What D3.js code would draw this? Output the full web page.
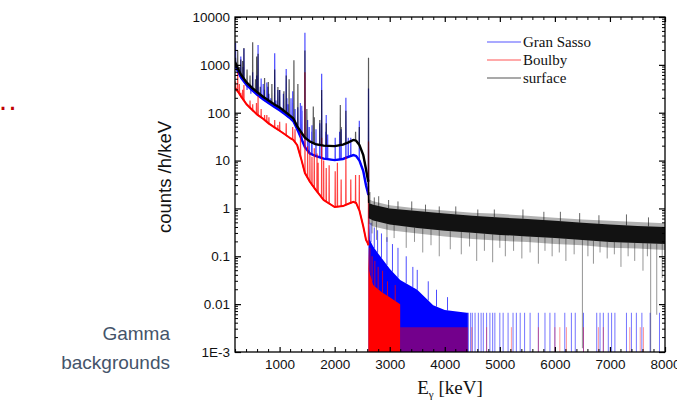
<!DOCTYPE html>
<html>
<head>
<meta charset="utf-8">
<script src="https://cdn.jsdelivr.net/npm/d3@7/dist/d3.min.js"></script>
<style>
  body { margin: 0; background: #fff; }
  svg { display: block; }
</style>
</head>
<body>
<svg id="chart" width="677" height="406"></svg>
<script>
// ---------- axes ----------
const energyDomain = [190, 8000];
const energyTicks = [1000, 2000, 3000, 4000, 5000, 6000, 7000, 8000];
const rateTicks = [1e-3, 0.01, 0.1, 1, 10, 100, 1000, 10000];
const rateTickLabels = ["1E-3", "0.01", "0.1", "1", "10", "100", "1000", "10000"];
const seriesNames = ["Gran Sasso", "Boulby", "surface"];

// ---------- continuum below the 2615 keV line (keV, counts/h/keV) ----------
const contEnergy = [190, 250, 300, 400, 500, 600, 700, 800, 900, 1000, 1100, 1200, 1250, 1320, 1400, 1460, 1550, 1650, 1800, 2000, 2150, 2250, 2340, 2390, 2450, 2520, 2570, 2600, 2612];
const surfaceCont = [1150, 800, 620, 430, 330, 265, 215, 180, 150, 128, 105, 85, 76, 52, 38, 30, 25, 22, 20.5, 20, 21.5, 24, 27, 26, 21, 13, 6.5, 4.2, 3.6];
const gransassoCont = [1000, 700, 540, 380, 295, 235, 192, 160, 134, 113, 93, 75, 66, 45, 28, 19, 14, 12.5, 11, 10.2, 10.8, 12, 13, 12.5, 10, 6, 3, 2.2, 1.9];
const boulbyCont = [330, 270, 220, 150, 115, 90, 75, 60, 50, 42, 35, 29, 27, 21, 10, 5.5, 3.6, 2.5, 1.5, 1.07, 1.12, 1.25, 1.37, 1.3, 0.9, 0.42, 0.22, 0.19, 0.17];

// ---------- gamma lines [keV, peak counts/h/keV] ----------
const gransassoPeaks = [[200, 2850], [242, 900], [295, 1500], [338, 900], [352, 2200], [409, 300], [463, 350], [478, 250], [511, 700], [562, 300], [583, 600], [609, 2600], [665, 520], [703, 400], [720, 300], [768, 430], [786, 350], [806, 250], [839, 200], [911, 1750], [934, 180], [969, 300], [1001, 300], [1069, 250], [1120, 820], [1133, 200], [1155, 150], [1207, 200], [1238, 280], [1281, 120], [1330, 130], [1377, 160], [1402, 140], [1408, 110], [1460, 4700], [1509, 70], [1538, 50], [1583, 40], [1588, 55], [1661, 45], [1730, 60], [1764, 650], [1838, 40], [1847, 90], [1873, 35], [2010, 30], [2090, 40], [2118, 45], [2204, 205], [2247, 30], [2293, 30], [2448, 68], [2615, 320]];
const surfacePeaks = [[200, 1400], [239, 2000], [270, 900], [295, 1300], [328, 1200], [352, 2250], [409, 800], [463, 600], [511, 2950], [562, 500], [583, 1500], [609, 1700], [649, 350], [727, 530], [795, 440], [860, 400], [911, 800], [969, 345], [1001, 300], [1078, 280], [1120, 600], [1173, 500], [1260, 1250], [1332, 400], [1460, 2000], [1495, 120], [1612, 135], [1630, 80], [1730, 70], [1764, 300], [1847, 60], [2103, 145], [2118, 50], [2204, 110], [2380, 40], [2448, 50], [2615, 1400]];
const boulbyPeaks = [[200, 450], [239, 700], [270, 400], [295, 260], [328, 300], [352, 380], [463, 180], [511, 150], [580, 160], [609, 220], [665, 120], [727, 90], [768, 90], [806, 80], [911, 70], [969, 55], [1001, 65], [1120, 60], [1238, 50], [1280, 45], [1380, 40], [1460, 700], [1509, 20], [1550, 15], [1588, 12], [1630, 18], [1680, 14], [1700, 9], [1764, 30], [1800, 10], [1847, 7], [1900, 8], [2010, 6], [2050, 9], [2118, 4], [2204, 12], [2293, 4], [2380, 5], [2448, 5], [2615, 25]];

// ---------- surface spectrum above 2615 keV: noise band ----------
const bandEnergy = [2618, 2700, 3000, 3500, 4000, 4500, 5000, 5500, 6000, 6500, 7000, 7500, 8000];
const bandCoreHi = [1.3, 1.2, 1.0, 0.88, 0.78, 0.7, 0.65, 0.6, 0.55, 0.5, 0.46, 0.43, 0.41];
const bandCoreLo = [0.62, 0.56, 0.46, 0.39, 0.34, 0.31, 0.28, 0.26, 0.24, 0.22, 0.2, 0.19, 0.18];
const bandFringeHi = [1.55, 1.42, 1.17, 1.0, 0.9, 0.81, 0.77, 0.7, 0.64, 0.59, 0.55, 0.52, 0.49];
const bandFringeLo = [0.48, 0.42, 0.35, 0.3, 0.26, 0.23, 0.21, 0.2, 0.18, 0.17, 0.15, 0.145, 0.135];
const surfaceDips = [[2680, 0.3], [2760, 0.22], [2950, 0.2], [3080, 0.24], [3300, 0.15], [3450, 0.2], [3600, 0.12], [3750, 0.17], [3900, 0.1], [4100, 0.14], [4300, 0.11], [4450, 0.16], [4580, 0.08], [4720, 0.13], [4870, 0.075], [5000, 0.15], [5100, 0.1], [5250, 0.13], [5400, 0.09], [5550, 0.12], [5700, 0.07], [5820, 0.13], [5950, 0.1], [6080, 0.12], [6200, 0.08], [6350, 0.11], [6500, 0.0012], [6600, 0.1], [6700, 0.07], [6820, 0.12], [6950, 0.09], [7080, 0.11], [7200, 0.06], [7330, 0.1], [7450, 0.08], [7600, 0.05], [7680, 0.1], [7740, 0.001], [7850, 0.006], [7950, 0.035]];
const surfaceUps = [[2640, 2.2], [2720, 1.7], [2800, 1.8], [2980, 1.5], [3150, 1.4], [3400, 1.4], [3650, 1.2], [3900, 1.1], [4200, 1.1], [4600, 0.95], [4900, 0.95], [5420, 0.95], [5800, 0.85], [6100, 0.85], [6450, 0.8], [6800, 0.72], [7300, 0.75], [7700, 0.65]];

// ---------- Gran Sasso above 2615 keV ----------
const gsTopEnergy = [2615, 2640, 2700, 2800, 2880, 3000, 3190, 3500, 3790, 4000, 4400, 4420];
const gsTopRate = [1.9, 0.22, 0.16, 0.11, 0.084, 0.055, 0.032, 0.02, 0.0095, 0.0075, 0.0066, 0.0066];
const gsSpikes = [[2660, 0.5], [2720, 0.4], [2780, 0.35], [2850, 0.3], [2950, 0.25], [3050, 0.18], [3150, 0.15], [3300, 0.1], [3420, 0.06], [3500, 0.052], [3700, 0.03], [3850, 0.02], [4050, 0.014]];
const gsSingleCounts = [4430, 4470, 4500, 4550, 4610, 4660, 4700, 4760, 4820, 4870, 4910, 5000, 5060, 5150, 5240, 5300, 5370, 5450, 5550, 5700, 5820, 5910, 6000, 6180, 6300, 6370, 6520, 6760, 6820, 6880, 6970, 7030, 7090, 7300, 7390, 7480, 7580, 7730, 7900];
const gsOneCount = 0.0066;

// ---------- Boulby above 2615 keV ----------
const bTopEnergy = [2612, 2625, 2700, 2850, 3000, 3190];
const bTopRate = [0.17, 0.05, 0.025, 0.018, 0.014, 0.01];
const bSpikes = [[2640, 0.15], [2680, 0.1], [2730, 0.08], [2790, 0.06], [2870, 0.05], [2960, 0.03], [3100, 0.025]];
const bLowBand = [3190, 4420];
const bSingleCounts = [4490, 4760, 5210, 5700, 6000, 6090, 6210, 6520, 6790, 6880, 7360, 7550, 7610];
const bOneCount = 0.0033;

// ---------- layout ----------
const svg = d3.select("#chart");
const plotL = 235, plotR = 665, plotT = 17, plotB = 352;
const x = d3.scaleLinear().domain(energyDomain).range([plotL, plotR]);
const y = d3.scaleLog().domain([1e-3, 1e4]).range([plotB, plotT]).clamp(true);

const BLUE = "#0000ff", RED = "#ff0000", BLACK = "#000000";

svg.append("clipPath").attr("id", "plotclip")
  .append("rect").attr("x", plotL).attr("y", plotT).attr("width", plotR - plotL).attr("height", plotB - plotT);
const plot = svg.append("g").attr("clip-path", "url(#plotclip)");

// log interpolation of a continuum at energy e
function baseAt(E, V, e) {
  if (e <= E[0]) return V[0];
  if (e >= E[E.length - 1]) return V[V.length - 1];
  const i = d3.bisectRight(E, e) - 1;
  const t = (e - E[i]) / (E[i + 1] - E[i]);
  return Math.exp(Math.log(V[i]) + t * (Math.log(V[i + 1]) - Math.log(V[i])));
}
function spectrumPoints(E, V, peaks) {
  const pts = E.map((e, i) => [e, V[i]]);
  peaks.forEach(([pe, pv]) => {
    const b = baseAt(E, V, pe);
    pts.push([pe - 3, b], [pe, pv], [pe + 3, b]);
  });
  return pts.sort((a, b) => a[0] - b[0]);
}
const line = d3.line().x(d => x(d[0])).y(d => y(d[1]));
const areaBand = d3.area().x(d => x(d[0])).y0(d => y(d[1])).y1(d => y(d[2]));

function drawSpikes(g, list, base, color, width, opacity) {
  g.selectAll(null).data(list).join("line")
    .attr("x1", d => x(d[0])).attr("x2", d => x(d[0]))
    .attr("y1", d => y(typeof base === "function" ? base(d) : base))
    .attr("y2", d => y(d[1]))
    .attr("stroke", color).attr("stroke-width", width).attr("stroke-opacity", opacity);
}

// ---- Gran Sasso ----
const gGS = plot.append("g");
gGS.append("path")
  .datum(gsTopEnergy.map((e, i) => [e, 1e-3, gsTopRate[i]]))
  .attr("d", areaBand).attr("fill", BLUE);
drawSpikes(gGS, gsSpikes, d => baseAt(gsTopEnergy, gsTopRate, d[0]), BLUE, 1, 0.7);
drawSpikes(gGS, gsSingleCounts.map(e => [e, gsOneCount]), 1e-3, BLUE, 1, 0.55);
gGS.append("path").datum(spectrumPoints(contEnergy, gransassoCont, gransassoPeaks))
  .attr("d", line).attr("fill", "none").attr("stroke", BLUE).attr("stroke-width", 1.2).attr("stroke-opacity", 0.7);
gGS.append("path").datum(contEnergy.map((e, i) => [e, gransassoCont[i]]))
  .attr("d", line).attr("fill", "none").attr("stroke", BLUE).attr("stroke-width", 2.4);

// ---- Boulby ----
const gB = plot.append("g");
gB.append("path")
  .datum(bTopEnergy.map((e, i) => [e, 1e-3, bTopRate[i]]))
  .attr("d", areaBand).attr("fill", RED);
gB.append("path")
  .datum(bLowBand.map(e => [e, 1e-3, bOneCount]))
  .attr("d", areaBand).attr("fill", RED).attr("fill-opacity", 0.45);
drawSpikes(gB, bSpikes, d => baseAt(bTopEnergy, bTopRate, d[0]), RED, 1, 0.75);
drawSpikes(gB, bSingleCounts.map(e => [e, bOneCount]), 1e-3, RED, 1, 0.4);
gB.append("path").datum(spectrumPoints(contEnergy, boulbyCont, boulbyPeaks))
  .attr("d", line).attr("fill", "none").attr("stroke", RED).attr("stroke-width", 1.2).attr("stroke-opacity", 0.75);
gB.append("path").datum(contEnergy.map((e, i) => [e, boulbyCont[i]]))
  .attr("d", line).attr("fill", "none").attr("stroke", RED).attr("stroke-width", 2);

// ---- surface ----
const gS = plot.append("g");
gS.append("path")
  .datum(bandEnergy.map((e, i) => [e, bandFringeLo[i], bandFringeHi[i]]))
  .attr("d", areaBand).attr("fill", BLACK).attr("fill-opacity", 0.3);
gS.append("path")
  .datum(bandEnergy.map((e, i) => [e, bandCoreLo[i], bandCoreHi[i]]))
  .attr("d", areaBand).attr("fill", BLACK).attr("fill-opacity", 0.9);
drawSpikes(gS, surfaceDips, d => baseAt(bandEnergy, bandCoreLo, d[0]), BLACK, 1, 0.42);
drawSpikes(gS, surfaceUps, d => baseAt(bandEnergy, bandCoreHi, d[0]), BLACK, 1, 0.6);
gS.append("path").datum(spectrumPoints(contEnergy, surfaceCont, surfacePeaks))
  .attr("d", line).attr("fill", "none").attr("stroke", BLACK).attr("stroke-width", 1.2).attr("stroke-opacity", 0.65);
gS.append("path").datum(contEnergy.map((e, i) => [e, surfaceCont[i]]))
  .attr("d", line).attr("fill", "none").attr("stroke", BLACK).attr("stroke-width", 2.4);
// drop from the 2615 keV Compton region into the band
gS.append("path").datum([[2612, surfaceCont[surfaceCont.length - 1]], [2618, bandCoreHi[0]]])
  .attr("d", line).attr("fill", "none").attr("stroke", BLACK).attr("stroke-width", 1.5);

// ---------- frame and ticks ----------
const axisFont = "'Liberation Sans', Arial, sans-serif";
const serif = "'Liberation Serif', 'Times New Roman', serif";
const frame = svg.append("g");

const xMinor = d3.range(200, 8001, 200).filter(v => v >= energyDomain[0] && energyTicks.indexOf(v) < 0);
const yMinor = [];
for (let p = -3; p < 4; p++) for (let m = 2; m <= 9; m++) yMinor.push(m * Math.pow(10, p));

const xAxisB = d3.axisBottom(x).tickValues(energyTicks).tickSize(-5).tickPadding(7).tickFormat(d3.format("d"));
const gxb = frame.append("g").attr("transform", `translate(0,${plotB})`).call(xAxisB);
const gxt = frame.append("g").attr("transform", `translate(0,${plotT})`)
  .call(d3.axisTop(x).tickValues(energyTicks).tickSize(-5).tickFormat(""));
const yAxisL = d3.axisLeft(y).tickValues(rateTicks).tickSize(-6).tickPadding(5)
  .tickFormat((d, i) => rateTickLabels[i]);
const gyl = frame.append("g").attr("transform", `translate(${plotL},0)`).call(yAxisL);
const gyr = frame.append("g").attr("transform", `translate(${plotR},0)`)
  .call(d3.axisRight(y).tickValues(rateTicks).tickSize(-6).tickFormat(""));

[gxb, gxt, gyl, gyr].forEach(g => {
  g.select(".domain").remove();
  g.selectAll(".tick line").attr("stroke", "#000").attr("stroke-width", 1.2);
  g.selectAll("text").attr("font-family", axisFont).attr("font-size", 13.5).attr("fill", "#111");
});

// minor ticks
frame.selectAll(null).data(xMinor).join("line")
  .attr("x1", d => x(d)).attr("x2", d => x(d)).attr("y1", plotB).attr("y2", plotB - 3)
  .attr("stroke", "#000").attr("stroke-width", 1);
frame.selectAll(null).data(xMinor).join("line")
  .attr("x1", d => x(d)).attr("x2", d => x(d)).attr("y1", plotT).attr("y2", plotT + 3)
  .attr("stroke", "#000").attr("stroke-width", 1);
frame.selectAll(null).data(yMinor).join("line")
  .attr("x1", plotL).attr("x2", plotL + 3).attr("y1", d => y(d)).attr("y2", d => y(d))
  .attr("stroke", "#000").attr("stroke-width", 1);
frame.selectAll(null).data(yMinor).join("line")
  .attr("x1", plotR).attr("x2", plotR - 3).attr("y1", d => y(d)).attr("y2", d => y(d))
  .attr("stroke", "#000").attr("stroke-width", 1);

frame.append("rect").attr("x", plotL).attr("y", plotT).attr("width", plotR - plotL).attr("height", plotB - plotT)
  .attr("fill", "none").attr("stroke", "#000").attr("stroke-width", 1.3);

// axis titles
const xt = svg.append("text").attr("x", 450).attr("y", 394).attr("text-anchor", "middle")
  .attr("font-family", serif).attr("font-size", 19).attr("fill", "#111");
xt.append("tspan").text("E");
xt.append("tspan").attr("dy", 4).attr("font-size", 11).text("γ");
xt.append("tspan").attr("dy", -4).text(" [keV]");

svg.append("text").attr("transform", "translate(171,177) rotate(-90)").attr("text-anchor", "middle")
  .attr("font-family", axisFont).attr("font-size", 18.5).attr("fill", "#111").text("counts /h/keV");

// legend
const legendColors = ["#8c8cff", "#ff8c8c", "#8c8c8c"];
const legend = svg.append("g").attr("transform", "translate(487,42)");
seriesNames.forEach((name, i) => {
  const row = legend.append("g").attr("transform", `translate(0,${i * 18})`);
  row.append("line").attr("x1", 0).attr("x2", 34).attr("y1", 0).attr("y2", 0)
    .attr("stroke", legendColors[i]).attr("stroke-width", 1.3);
  row.append("text").attr("x", 36).attr("y", 5).attr("font-family", serif).attr("font-size", 15)
    .attr("fill", "#111").text(name);
});

// slide caption
const cap = svg.append("text").attr("text-anchor", "end").attr("font-family", axisFont)
  .attr("font-size", 19).attr("fill", "#44546a");
cap.append("tspan").attr("x", 170).attr("y", 340).text("Gamma");
cap.append("tspan").attr("x", 170).attr("y", 369).text("backgrounds");

svg.append("text").attr("x", -12).attr("y", 110).attr("font-family", axisFont).attr("font-size", 30)
  .attr("fill", "#c00000").text("…");
</script>
</body>
</html>
